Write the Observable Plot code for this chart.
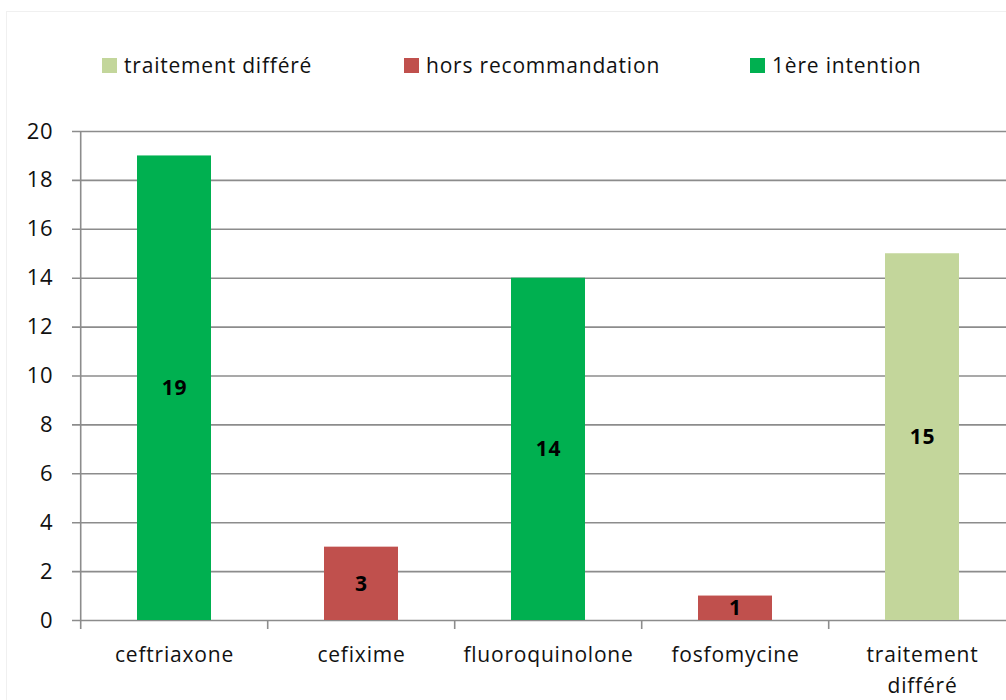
<!DOCTYPE html>
<html>
<head>
<meta charset="utf-8">
<script src="https://cdn.jsdelivr.net/npm/d3@7"></script>
<script src="https://cdn.jsdelivr.net/npm/@observablehq/plot@0.6"></script>
<style>
  html, body { margin: 0; padding: 0; background: #fff; }
  body { width: 1006px; height: 700px; overflow: hidden; position: relative; font-family: "Open Sans", sans-serif; }
  #frame { position: absolute; left: 6px; top: 11px; width: 1100px; height: 800px; border: 1px solid #f0f0f0; box-sizing: border-box; pointer-events: none; }
  #legend { position: relative; height: 100px; }
  .item { position: absolute; top: 51px; display: flex; align-items: center; font-size: 21px; color: #111; white-space: nowrap; letter-spacing: 0.8px; }
  .sw { width: 15px; height: 15px; margin-right: 7px; }
  #chart svg { display: block; }
</style>
</head>
<body>
<div id="frame"></div>
<div id="legend"></div>
<div id="chart"></div>
<script>
// Data
const categories = ["ceftriaxone", "cefixime", "fluoroquinolone", "fosfomycine", "traitement\ndifféré"];
const values = [19, 3, 14, 1, 15];
const seriesOfBar = ["1ère intention", "hors recommandation", "1ère intention", "hors recommandation", "traitement différé"];
const seriesNames = ["traitement différé", "hors recommandation", "1ère intention"];
const seriesColors = ["#C3D69B", "#C0504D", "#00B050"];
const yTicks = [0, 2, 4, 6, 8, 10, 12, 14, 16, 18, 20];

const data = categories.map((c, i) => ({category: c, value: values[i], series: seriesOfBar[i]}));

// Legend (HTML, above the SVG)
const legendLeft = [102, 404, 750];
const legend = document.getElementById("legend");
seriesNames.forEach((s, i) => {
  const it = document.createElement("div");
  it.className = "item";
  it.style.left = legendLeft[i] + "px";
  const sw = document.createElement("span");
  sw.className = "sw";
  sw.style.background = seriesColors[i];
  const tx = document.createElement("span");
  tx.textContent = s;
  it.appendChild(sw);
  it.appendChild(tx);
  legend.appendChild(it);
});

const W = 1006, H = 600, ML = 79, MR = -11, MT = 31, MB = 80;
const step = (W - ML - MR) / categories.length;
const boundaries = categories.map((c, i) => ({category: c, top: i === 0 ? 20 : 0}));

const plot = Plot.plot({
  width: W,
  height: H,
  marginLeft: ML,
  marginRight: MR,
  marginTop: MT,
  marginBottom: MB,
  style: {fontFamily: "Open Sans, sans-serif", background: "white", overflow: "hidden", letterSpacing: "0.8px"},
  x: {domain: categories, paddingInner: 0.605, paddingOuter: 0.3025, label: null},
  y: {domain: [0, 20], label: null},
  color: {domain: seriesNames, range: seriesColors},
  marks: [
    Plot.ruleY(yTicks, {y: d => d, stroke: "#8c8c8c", strokeWidth: 1.6, insetLeft: -7}),
    Plot.barY(data, {x: "category", y: "value", fill: "series"}),
    Plot.ruleX(boundaries, {x: "category", dx: -step / 2, y1: "top", y2: 0, insetBottom: -9, stroke: "#8c8c8c", strokeWidth: 1.6}),
    Plot.text(data, {x: "category", y: d => d.value / 2, text: d => String(d.value), fontWeight: "bold", fontSize: 21, fill: "#000"}),
    Plot.axisY({ticks: yTicks, tickSize: 0, tickPadding: 26, fontSize: 22, fill: "#111", tickFormat: d => String(d)}),
    Plot.axisX({tickSize: 0, tickPadding: 20, fontSize: 21, fill: "#111", lineHeight: 1.45})
  ]
});
document.getElementById("chart").appendChild(plot);
</script>
</body>
</html>
